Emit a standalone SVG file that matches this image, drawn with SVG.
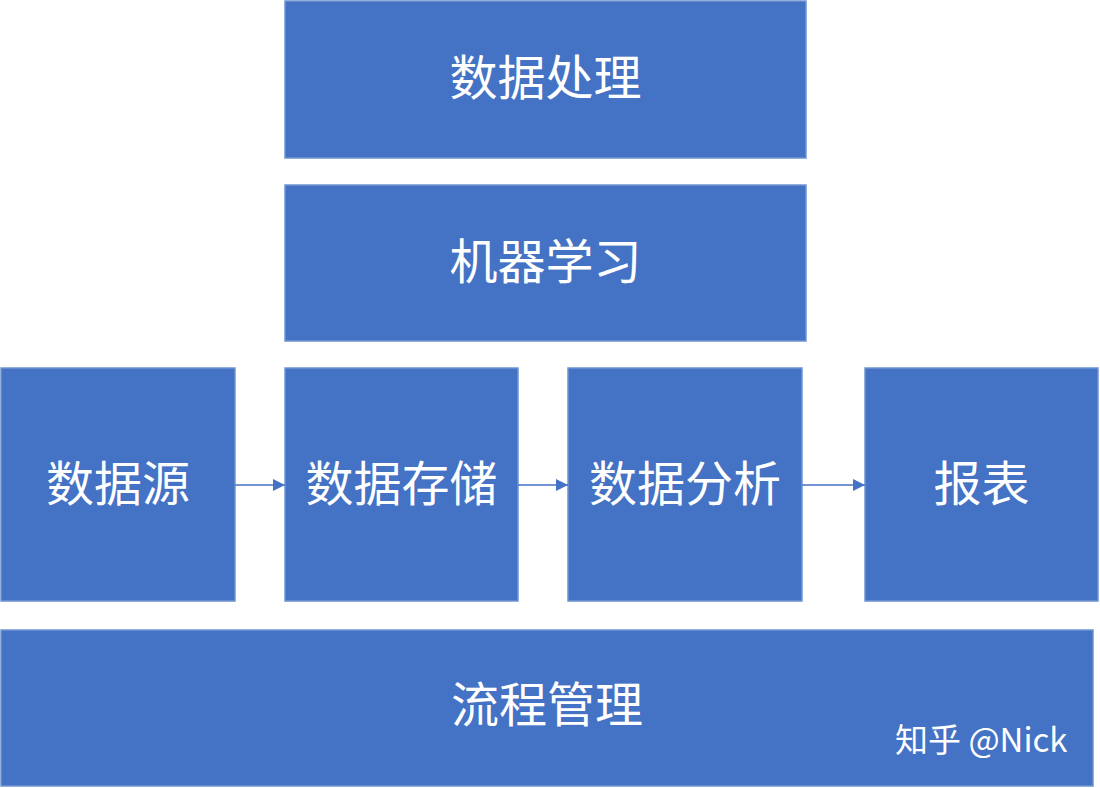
<svg xmlns="http://www.w3.org/2000/svg" width="1100" height="788" viewBox="0 0 1100 788">
<defs>
<style>
.box{fill:#4472C4;stroke:#6F94D2;stroke-width:1.5}
.lbl{fill:#fff;font-family:"Noto Sans CJK SC","Noto Sans",sans-serif;font-size:48px;text-anchor:middle;dominant-baseline:central}
.edge{stroke:#4472C4;stroke-width:1.5;fill:none}
.wm{fill:#fff;font-family:"Noto Sans CJK SC","Noto Sans",sans-serif;font-size:33px;dominant-baseline:central}
</style>
<marker id="ah2" viewBox="0 0 10 10" refX="10" refY="5" markerWidth="12" markerHeight="12" orient="auto" markerUnits="userSpaceOnUse">
<path d="M0,0 L10,5 L0,10 z" fill="#4472C4"/>
</marker>
</defs>
<rect width="1100" height="788" fill="#fff"/>
<g id="n-process"><rect class="box" x="285" y="1" width="521" height="157"/><text class="lbl" x="545.500" y="74">数据处理</text></g>
<g id="n-ml"><rect class="box" x="285" y="185" width="521" height="156"/><text class="lbl" x="545.500" y="258">机器学习</text></g>
<g id="n-source"><rect class="box" x="1" y="368" width="234" height="233"/><text class="lbl" x="118" y="480">数据源</text></g>
<g id="n-storage"><rect class="box" x="285" y="368" width="233" height="233"/><text class="lbl" x="401.500" y="480">数据存储</text></g>
<g id="n-analysis"><rect class="box" x="568" y="368" width="234" height="233"/><text class="lbl" x="685" y="480">数据分析</text></g>
<g id="n-report"><rect class="box" x="865" y="368" width="233" height="233"/><text class="lbl" x="981.500" y="480">报表</text></g>
<g id="n-flow"><rect class="box" x="1" y="630" width="1092" height="156"/><text class="lbl" x="547" y="701">流程管理</text></g>
<g id="connectors">
<line class="edge" x1="235" y1="485" x2="285" y2="485" marker-end="url(#ah2)"/>
<line class="edge" x1="518" y1="485" x2="568" y2="485" marker-end="url(#ah2)"/>
<line class="edge" x1="802" y1="485" x2="865" y2="485" marker-end="url(#ah2)"/>
</g>
<text class="wm" x="895" y="738">知乎 @Nick</text>
</svg>
